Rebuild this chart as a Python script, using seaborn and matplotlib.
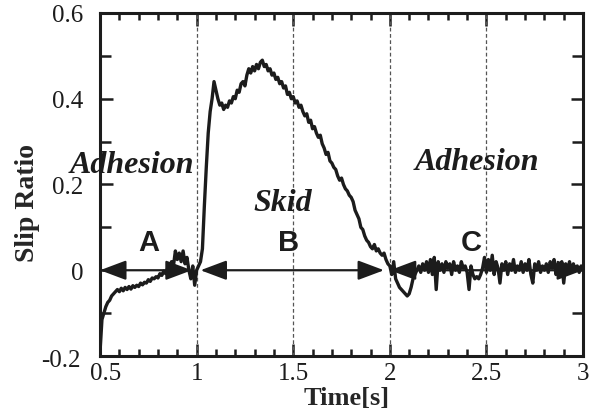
import numpy as np
import pandas as pd
import matplotlib
matplotlib.use("Agg")
import matplotlib.pyplot as plt
import matplotlib.transforms as mtransforms
import seaborn as sns
from matplotlib.ticker import MultipleLocator

# ---- data ----
time_s = np.round(np.linspace(0.5, 3.0, 251), 2)
slip_ratio = [
    -0.19, -0.115, -0.10, -0.085, -0.075, -0.07, -0.06, -0.055, -0.05, -0.045,
    -0.05, -0.042, -0.048, -0.04, -0.045, -0.038, -0.044, -0.036, -0.04, -0.035,
    -0.038, -0.03, -0.034, -0.028, -0.03, -0.022, -0.026, -0.018, -0.02, -0.015,
    -0.018, -0.008, -0.012, -0.002, -0.008, 0.005, 0.0, 0.02, 0.01, 0.045,
    0.025, 0.04, 0.02, 0.045, 0.015, 0.03, 0.0, -0.02, 0.01, -0.035,
    0.0, 0.01, 0.02, 0.05, 0.15, 0.24, 0.32, 0.37, 0.40, 0.44,
    0.42, 0.40, 0.385, 0.39, 0.375, 0.385, 0.38, 0.395, 0.39, 0.405,
    0.40, 0.42, 0.415, 0.435, 0.44, 0.43, 0.455, 0.47, 0.46, 0.475,
    0.465, 0.48, 0.47, 0.485, 0.49, 0.475, 0.48, 0.465, 0.47, 0.455,
    0.46, 0.445, 0.45, 0.435, 0.44, 0.425, 0.43, 0.41, 0.415, 0.40,
    0.405, 0.39, 0.395, 0.38, 0.385, 0.37, 0.36, 0.365, 0.345, 0.35,
    0.33, 0.335, 0.32, 0.31, 0.315, 0.295, 0.285, 0.27, 0.275, 0.255,
    0.25, 0.24, 0.235, 0.22, 0.21, 0.215, 0.20, 0.19, 0.185, 0.175,
    0.17, 0.16, 0.14, 0.13, 0.12, 0.10, 0.095, 0.08, 0.07, 0.065,
    0.055, 0.05, 0.06, 0.045, 0.05, 0.04, 0.035, 0.04, 0.025, 0.015,
    0.01, -0.01, 0.02, -0.02, -0.03, -0.04, -0.045, -0.05, -0.055, -0.06,
    -0.055, -0.04, -0.02, -0.01, 0.0, 0.01, -0.005, 0.015, 0.0, 0.02,
    -0.005, 0.025, -0.01, 0.03, -0.045, 0.02, 0.0, 0.015, -0.005, 0.02,
    0.005, 0.015, -0.01, 0.02, 0.0, 0.01, -0.005, 0.02, 0.005, 0.01,
    -0.005, -0.045, 0.01, -0.01, -0.02, -0.015, -0.02, -0.01, 0.005, 0.03,
    -0.005, 0.025, 0.0, 0.035, -0.01, 0.02, 0.005, -0.03, 0.015, 0.0,
    0.02, -0.01, 0.015, 0.0, 0.025, -0.005, 0.01, 0.0, 0.02, -0.005,
    0.015, 0.0, 0.025, -0.01, -0.03, 0.015, 0.0, 0.02, -0.005, 0.01,
    0.0, 0.015, -0.005, 0.02, 0.005, 0.025, -0.01, 0.015, 0.0, 0.02,
    -0.03, 0.015, 0.0, 0.02, -0.005, 0.015, 0.0, 0.01, -0.005, 0.01,
    0.0,
]
x_ticks = [0.5, 1, 1.5, 2, 2.5, 3]
x_tick_labels = ["0.5", "1", "1.5", "2", "2.5", "3"]
y_ticks = [-0.2, 0, 0.2, 0.4, 0.6]
y_tick_labels = ["-0.2", "0", "0.2", "0.4", "0.6"]
phase_bounds = [1.0, 1.5, 2.0, 2.5]
region_arrows = [("A", 0.5, 0.975, 0.753), ("B", 1.02, 1.97, 1.477), ("C", 2.0, 3.0, 2.42)]
state_labels = [("Adhesion", 0.665, 0.247), ("Skid", 1.446, 0.158), ("Adhesion", 2.45, 0.254)]

df = pd.DataFrame({"Time": time_s, "Slip": slip_ratio})

sns.set_theme(style="ticks")
plt.rcParams["font.family"] = ["Liberation Serif", "DejaVu Serif"]

ink = "#1c1c1c"
fig = plt.figure(figsize=(6.04, 4.14), dpi=100)
ax = fig.add_axes([0.1656, 0.1377, 0.7997, 0.8285])

for xb in phase_bounds:
    ax.axvline(xb, color="#555555", lw=0.9, ls=(0, (3, 2)), zorder=1)

sns.lineplot(data=df, x="Time", y="Slip", ax=ax, color=ink, lw=2.4, zorder=3)

for lab, x0, x1, xl in region_arrows:
    ax.annotate("", xy=(x1, 0), xytext=(x0, 0),
                arrowprops=dict(arrowstyle="<|-|>,head_length=0.8,head_width=0.3",
                                mutation_scale=20, color=ink, lw=1.6,
                                shrinkA=0, shrinkB=0), zorder=2)
    ax.text(xl, 0.065, lab, ha="center", va="center", fontsize=21, fontweight="bold",
            family=["Liberation Sans", "DejaVu Sans"], color=ink)

for txt, xx, yy in state_labels:
    ax.text(xx, yy, txt, ha="center", va="center", fontsize=23, fontweight="bold",
            fontstyle="italic", color=ink)

ax.set_xlim(0.5, 3.0)
ax.set_ylim(-0.2, 0.6)
ax.set_xticks(x_ticks)
ax.set_xticklabels(x_tick_labels)
ax.set_yticks(y_ticks)
ax.set_yticklabels(y_tick_labels)
ax.xaxis.set_minor_locator(MultipleLocator(0.1))
ax.yaxis.set_minor_locator(MultipleLocator(0.1))
ax.tick_params(which="both", direction="in", top=True, right=True, colors=ink,
               labelsize=18, width=1.8)
ax.tick_params(axis="x", which="major", length=9, pad=4)
ax.tick_params(axis="y", which="major", length=9, pad=12)
ax.tick_params(axis="x", which="minor", length=5)
ax.tick_params(axis="y", which="minor", length=8)
for s in ax.spines.values():
    s.set_linewidth(2.2)
    s.set_color(ink)

# nudge the first x label right and the bottom y label, as in the reference
lbl0 = ax.get_xticklabels()[0]
lbl0.set_transform(lbl0.get_transform() + mtransforms.ScaledTranslation(6 / 100, 0, fig.dpi_scale_trans))
lbly = ax.get_yticklabels()[0]
lbly.set_transform(lbly.get_transform() + mtransforms.ScaledTranslation(-3 / 100, -2 / 100, fig.dpi_scale_trans))

ax.set_xlabel("Time[s]", fontsize=19, fontweight="bold")
ax.xaxis.set_label_coords(0.51, -0.088)
ax.set_ylabel("Slip Ratio", fontsize=20, fontweight="bold")
ax.yaxis.set_label_coords(-0.125, 0.45)

fig.savefig("out.png", dpi=100)
